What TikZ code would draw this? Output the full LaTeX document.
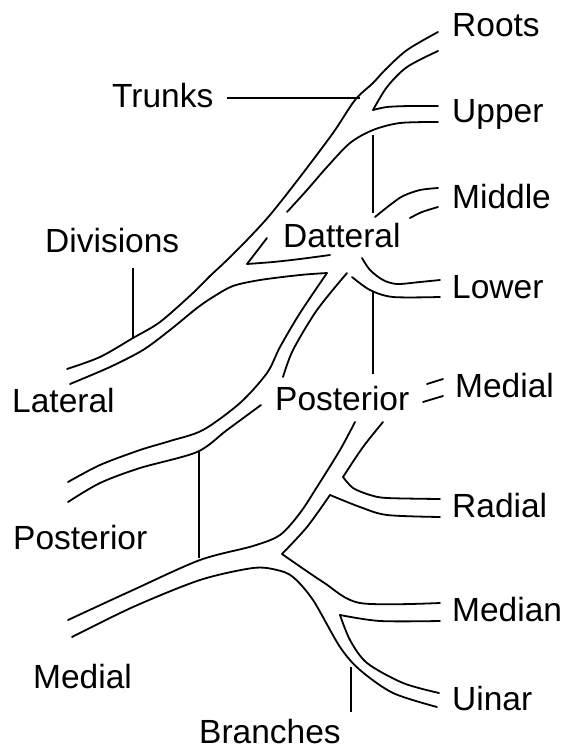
\documentclass[tikz,border=0pt]{standalone}
\usepackage{fontspec}
\setmainfont{Liberation Sans}
\usepackage{tikz}
\usetikzlibrary{positioning,calc}
\tikzset{
  nerve/.style   = {draw=black, line width=1.8pt, line cap=round, line join=round},
  leader/.style  = {draw=black, line width=1.3pt},
  lbl/.style     = {font=\fontsize{33.5}{40}\selectfont, anchor=base west, inner sep=0pt, text=black},
}

\begin{document}
\begin{tikzpicture}[x=1pt,y=-1pt]
  \useasboundingbox (0,0) rectangle (569,749);

  \draw[nerve] plot[smooth] coordinates {(438,32) (407,50) (385,70) (373,83) (355,100) (333,133) (300,177) (270,215) (247,240) (225,262) (210,276) (193,293) (160,322) (133,338) (100,357) (67,369)};
  \draw[nerve] plot[smooth] coordinates {(438,51) (407,67) (387,87) (373,110)};
  \draw[nerve] plot[smooth] coordinates {(373,110) (387,107) (410,106) (438,106)};
  \draw[nerve] plot[smooth] coordinates {(438,122) (400,123) (373,130) (350,143) (327,167) (307,190) (287,212)};
  \draw[nerve] (267,238) -- (247,264);
  \draw[nerve] plot[smooth] coordinates {(247,264) (273,262) (300,259) (330,255)};
  \draw[nerve] plot[smooth] coordinates {(327,273) (300,275) (260,280) (233,286) (213,297) (197,308) (170,330) (143,350) (110,367) (70,384)};

  \draw[nerve] plot[smooth] coordinates {(438,188) (420,190) (403,196) (390,205) (375,217)};
  \draw[nerve] plot[smooth] coordinates {(438,207) (422,212) (410,218)};
  \draw[nerve] plot[smooth] coordinates {(362,258) (370,270) (383,280) (397,284) (420,282) (440,280)};
  \draw[nerve] plot[smooth] coordinates {(352,277) (370,290) (393,297) (440,297)};

  \draw[nerve] plot[smooth] coordinates {(327,273) (300,313) (280,347) (267,373) (240,403) (203,430) (170,441) (140,450) (100,465) (68,482)};
  \draw[nerve] plot[smooth] coordinates {(347,273) (317,310) (293,350) (283,377)};
  \draw[nerve] plot[smooth] coordinates {(261,405) (227,430) (197,452) (140,468) (100,483) (68,502)};

  \draw[nerve] (427,384) -- (443,379);
  \draw[nerve] (423,402) -- (443,396);

  \draw[nerve] plot[smooth] coordinates {(68,620) (133,590) (200,560) (253,546) (280,535) (300,513) (317,487) (340,450) (355,422)};
  \draw[nerve] plot[smooth] coordinates {(383,422) (363,447) (343,477)};
  \draw[nerve] plot[smooth] coordinates {(343,477) (353,488) (370,495) (387,498) (440,499)};
  \draw[nerve] plot[smooth] coordinates {(440,517) (387,515) (360,507) (330,495)};
  \draw[nerve] plot[smooth] coordinates {(330,495) (307,527) (282,554)};
  \draw[nerve] plot[smooth] coordinates {(282,554) (323,582) (360,603) (440,603)};
  \draw[nerve] plot[smooth] coordinates {(440,621) (380,621) (340,615)};
  \draw[nerve] plot[smooth] coordinates {(340,615) (350,640) (367,663) (403,683) (439,693)};
  \draw[nerve] plot[smooth] coordinates {(72,637) (133,607) (200,580) (253,568) (277,570) (293,577) (313,600) (340,647) (360,670) (393,693) (437,707)};

  \node[lbl] (roots)      at (452,37)  {Roots};
  \node[lbl] (upper)      at (452,122) {Upper};
  \node[lbl] (middle)     at (452,208) {Middle};
  \node[lbl] (lower)      at (452,298) {Lower};
  \node[lbl] (trunks)     at (112,107) {Trunks};
  \node[lbl] (divisions)  at (45,252)  {Divisions};
  \node[lbl] (datteral)   at (283,247) {Datteral};
  \node[lbl] (lateral)    at (12,412)  {Lateral};
  \node[lbl] (postcord)   at (275,410) {Posterior};
  \node[lbl] (medialcord) at (455,397) {Medial};
  \node[lbl] (postleft)   at (13,549)  {Posterior};
  \node[lbl] (radial)     at (452,517) {Radial};
  \node[lbl] (median)     at (452,621) {Median};
  \node[lbl] (medleft)    at (33,688)  {Medial};
  \node[lbl] (uinar)      at (452,710) {Uinar};
  \node[lbl] (branches)   at (199,743) {Branches};

  \coordinate (trunkend) at (360,98);
  \coordinate (trunkbeg) at (227,98);
  \coordinate (uppbeg)   at (373,135);
  \coordinate (uppend)   at (373,213);
  \coordinate (lowbeg)   at (373,292);
  \coordinate (lowend)   at (373,374);
  \coordinate (divbeg)   at (133,268);
  \coordinate (divend)   at (133,338);
  \coordinate (postbeg)  at (199,452);
  \coordinate (postend)  at (199,558);
  \coordinate (brbeg)    at (351,667);
  \coordinate (brend)    at (351,712);
  \draw[leader] (trunkbeg) -- (trunkend);
  \draw[leader] (uppbeg) -- (uppend);
  \draw[leader] (lowbeg) -- (lowend);
  \draw[leader] (divbeg) -- (divend);
  \draw[leader] (postbeg) -- (postend);
  \draw[leader] (brbeg) -- (brend);
\end{tikzpicture}
\end{document}
